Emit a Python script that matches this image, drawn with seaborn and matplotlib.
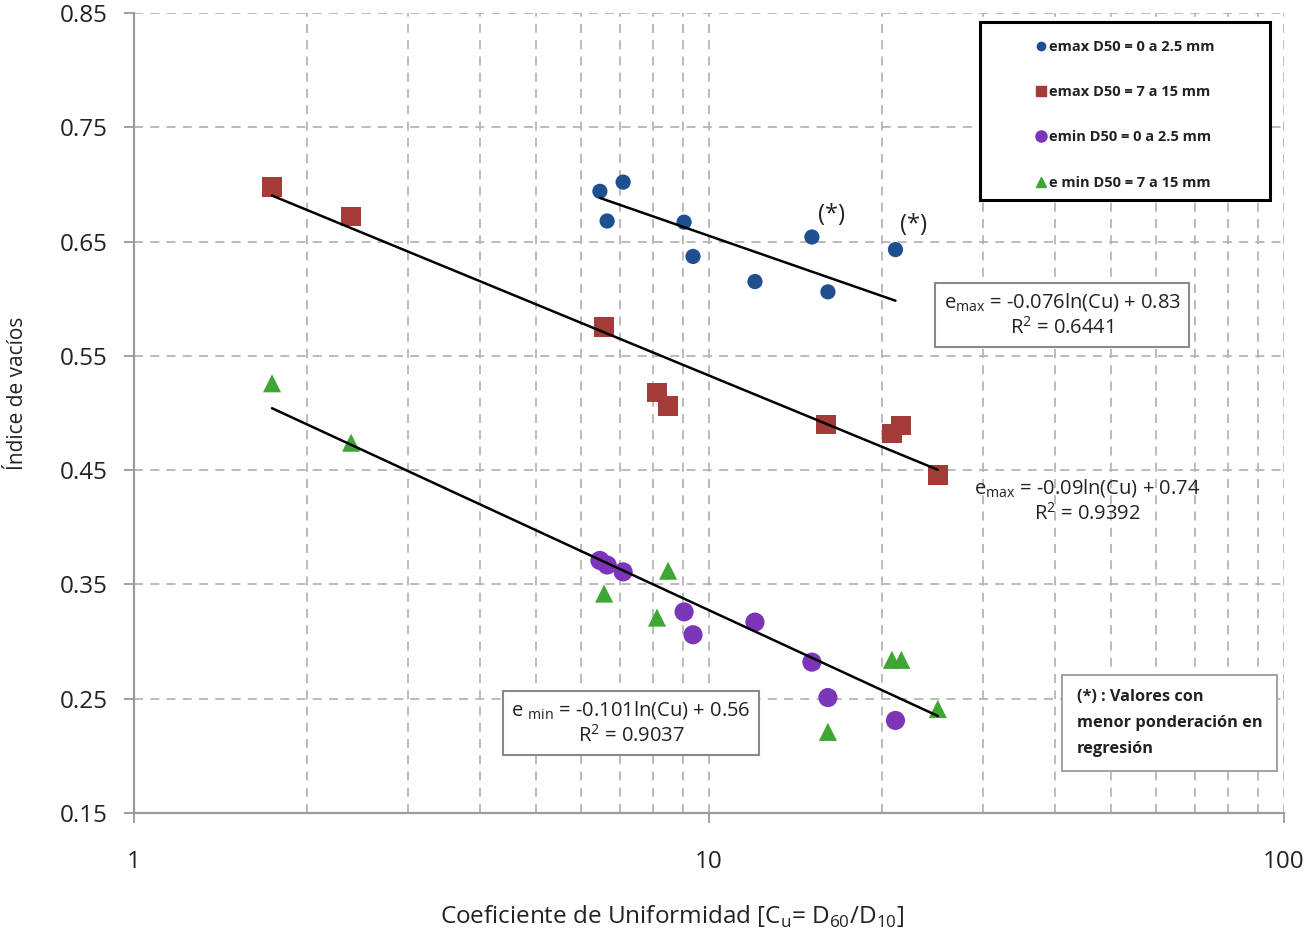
import numpy as np
import pandas as pd
import matplotlib
matplotlib.use("Agg")
import matplotlib.pyplot as plt
from matplotlib.lines import Line2D
from matplotlib.patches import Rectangle
import seaborn as sns

# ---- data ----
cu_a = [6.46, 7.09, 6.65, 9.05, 9.38, 12.02, 15.1, 16.1, 21.1]
emax_a = [0.694, 0.702, 0.668, 0.667, 0.637, 0.615, 0.654, 0.606, 0.643]
cu_a_emin = [6.46, 7.09, 6.65, 9.05, 9.38, 12.02, 15.1, 16.1, 21.1]
emin_a = [0.371, 0.361, 0.367, 0.326, 0.306, 0.317, 0.282, 0.251, 0.231]

cu_b = [1.738, 2.385, 6.57, 8.12, 8.49, 15.97, 20.8, 21.6, 25.0]
emax_b = [0.698, 0.672, 0.575, 0.518, 0.506, 0.490, 0.482, 0.489, 0.446]
cu_b_emin = [1.738, 2.385, 6.57, 8.12, 8.49, 16.1, 20.8, 21.6, 25.0]
emin_b = [0.526, 0.474, 0.342, 0.321, 0.362, 0.221, 0.284, 0.284, 0.241]

series_labels = ["emax D50 = 0 a 2.5 mm", "emax D50 = 7 a 15 mm",
                 "emin D50 = 0 a 2.5 mm", "e min D50 = 7 a 15 mm"]

# regression coefficients (a, b) for e = a*ln(Cu) + b, and fitted ranges
fit_emax_a = (-0.076, 0.83, 6.46, 21.1)
fit_emax_b = (-0.09, 0.74, 1.738, 25.0)
fit_emin = (-0.101, 0.56, 1.738, 25.0)

x_ticks = [1, 10, 100]
y_ticks = [0.15, 0.25, 0.35, 0.45, 0.55, 0.65, 0.75, 0.85]

# ---- style ----
sns.set_theme(style="white")
plt.rcParams['font.family'] = ['Open Sans', 'DejaVu Sans']

W, H = 1311, 935
fig = plt.figure(figsize=(W/100, H/100), dpi=100)
ax = fig.add_axes([134/W, 1-813/H, (1284-134)/W, (813-13)/H])

def ax_x(px):   # pixel -> axes fraction
    return (px-134)/1150
def ax_y(py):
    return 1-(py-13)/800
def data_x(px):
    return 10**((px-134)/575)
def data_y(py):
    return 0.85-(py-13)/1143

c_blue = "#1f4f8f"
c_red = "#a33b38"
c_purple = "#7a35b8"
c_green = "#3fa535"
txt = "#222222"

df = pd.concat([
    pd.DataFrame({"Cu": cu_a, "e": emax_a, "serie": series_labels[0]}),
    pd.DataFrame({"Cu": cu_b, "e": emax_b, "serie": series_labels[1]}),
    pd.DataFrame({"Cu": cu_a_emin, "e": emin_a, "serie": series_labels[2]}),
    pd.DataFrame({"Cu": cu_b_emin, "e": emin_b, "serie": series_labels[3]}),
], ignore_index=True)

palette = {series_labels[0]: c_blue, series_labels[1]: c_red,
           series_labels[2]: c_purple, series_labels[3]: c_green}
markers = {series_labels[0]: "o", series_labels[1]: "s",
           series_labels[2]: "o", series_labels[3]: "^"}
sizes = {series_labels[0]: 120, series_labels[1]: 200,
         series_labels[2]: 190, series_labels[3]: 170}

for lab in series_labels:
    sub = df[df.serie == lab]
    sns.scatterplot(data=sub, x="Cu", y="e", color=palette[lab], marker=markers[lab],
                    s=sizes[lab], edgecolor="none", ax=ax, zorder=3, legend=False)

# trend lines
for a, b, x0, x1 in [fit_emax_a, fit_emax_b, fit_emin]:
    xs = np.geomspace(x0, x1, 50)
    sns.lineplot(x=xs, y=a*np.log(xs)+b, color="black", lw=1.8, ax=ax, zorder=4)

ax.set_xscale("log")
ax.set_xlim(1, 100)
ax.set_ylim(0.15, 0.85)
ax.set_yticks(y_ticks)
ax.set_yticklabels([f"{v:.2f}" for v in y_ticks])
ax.set_xticks(x_ticks)
ax.set_xticklabels([str(v) for v in x_ticks])
ax.xaxis.set_minor_locator(matplotlib.ticker.LogLocator(base=10, subs=np.arange(2, 10)))
ax.xaxis.set_minor_formatter(matplotlib.ticker.NullFormatter())

ax.grid(True, which="major", axis="both", color="#b5b5b5", ls=(0, (5, 4)), lw=1.3)
ax.grid(True, which="minor", axis="x", color="#b5b5b5", ls=(0, (5, 4)), lw=1.3)

for s in ["top", "right"]:
    ax.spines[s].set_visible(False)
for s in ["left", "bottom"]:
    ax.spines[s].set_color("#9a9a9a")
    ax.spines[s].set_linewidth(1.6)

ax.tick_params(axis="both", which="major", direction="out", length=7, width=1.3,
               color="#9a9a9a", labelsize=17.5, labelcolor=txt,
               left=True, bottom=True)
ax.tick_params(axis="y", which="major", pad=12)
ax.tick_params(axis="x", which="major", pad=20)
ax.tick_params(axis="x", which="minor", length=0)

ax.set_xlabel("Coeficiente de Uniformidad [C$_{\\mathregular{u}}$= D$_{\\mathregular{60}}$/D$_{\\mathregular{10}}$]",
              fontsize=17.5, color=txt)
ax.xaxis.set_label_coords(ax_x(672), ax_y(917))
ax.xaxis.label.set_va("center")
ax.set_ylabel("Índice de vacíos", fontsize=15, color=txt)
ax.yaxis.set_label_coords(ax_x(28), ax_y(393))

# legend frame + legend
ax.add_patch(Rectangle((ax_x(980), ax_y(200)), ax_x(1270)-ax_x(980), ax_y(22)-ax_y(200),
                       transform=ax.transAxes, fc="white", ec="black", lw=2.2,
                       zorder=6, clip_on=False))
handles = [
    Line2D([], [], ls="none", marker="o", color=c_blue, markersize=6),
    Line2D([], [], ls="none", marker="s", color=c_red, markersize=7),
    Line2D([], [], ls="none", marker="o", color=c_purple, markersize=8),
    Line2D([], [], ls="none", marker="^", color=c_green, markersize=7),
]
leg = ax.legend(handles, series_labels, loc="upper left",
                bbox_to_anchor=(ax_x(1034), ax_y(40)),
                frameon=False, labelspacing=2.14,
                handletextpad=0.05, handlelength=1.0, borderpad=0,
                borderaxespad=0, prop={"weight": "bold", "size": 10.5})
leg.set_zorder(7)
for t in leg.get_texts():
    t.set_color(txt)

# stars
ax.text(data_x(818), data_y(215), "(*)", fontsize=17, ha="left", va="center",
        color=txt, zorder=5)
ax.text(data_x(900), data_y(225), "(*)", fontsize=17, ha="left", va="center",
        color=txt, zorder=5)

# equation annotations
box = dict(boxstyle="square,pad=0.4", fc="white", ec="#8a8a8a", lw=1.5)
ax.text(data_x(1062), data_y(315),
        "e$_{\\mathregular{max}}$ = -0.076ln(Cu) + 0.83\nR$^{\\mathregular{2}}$ = 0.6441",
        fontsize=14.5, ha="center", va="center", color=txt, bbox=box,
        linespacing=1.2, zorder=5)
ax.text(data_x(1087), data_y(501),
        "e$_{\\mathregular{max}}$ = -0.09ln(Cu) + 0.74\nR$^{\\mathregular{2}}$ = 0.9392",
        fontsize=14.5, ha="center", va="center", color=txt,
        linespacing=1.2, zorder=5)
ax.text(data_x(631), data_y(723),
        "e $_{\\mathregular{min}}$ = -0.101ln(Cu) + 0.56\nR$^{\\mathregular{2}}$ = 0.9037",
        fontsize=14.5, ha="center", va="center", color=txt, bbox=box,
        linespacing=1.2, zorder=5)
note_box = dict(boxstyle="square,pad=0.9", fc="white", ec="#9a9a9a", lw=1.3)
ax.text(data_x(1077), data_y(723),
        "(*) : Valores con\nmenor ponderación en\nregresión",
        fontsize=11.8, fontweight="bold", ha="left", va="center", color=txt,
        bbox=note_box, linespacing=1.8, zorder=5)

fig.savefig("out.png", dpi=100)
